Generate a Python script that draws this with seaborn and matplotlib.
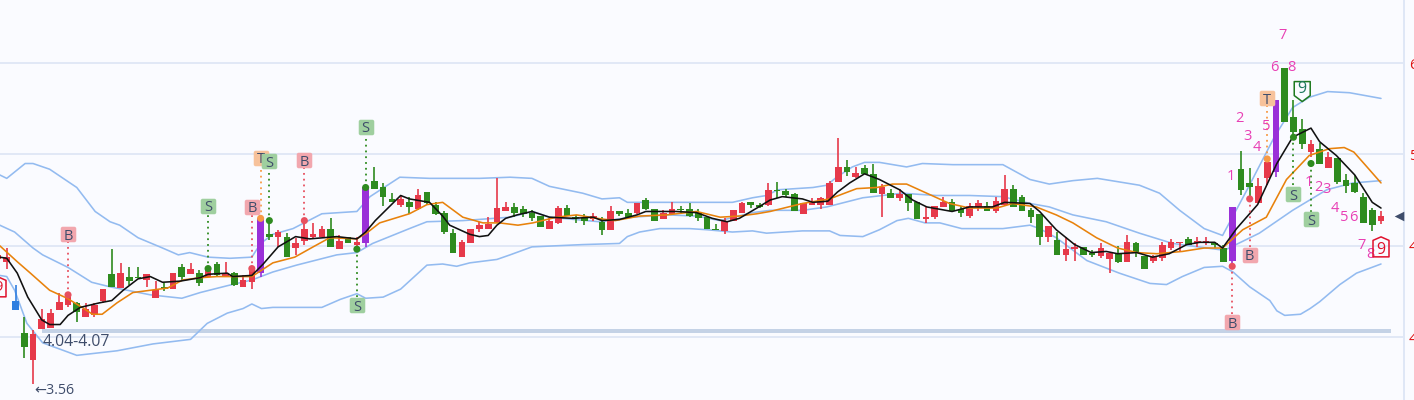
import numpy as np
import seaborn as sns
from matplotlib import pyplot as plt
from matplotlib.path import Path

# --- Candles ---
opens = [
    4.68, 4.66, 4.32, 4.04, 3.80, 4.07, 4.08, 4.24, 4.28, 4.30,
    4.18, 4.19, 4.32, 4.55, 4.43, 4.53, 4.53, 4.50, 4.34, 4.44,
    4.42, 4.61, 4.55, 4.56, 4.53, 4.64, 4.53, 4.56, 4.44, 4.48,
    4.56, 4.90, 4.88, 4.88, 4.78, 4.84, 4.88, 4.88, 4.95, 4.77,
    4.88, 4.81, 4.82, 5.37, 5.31, 5.21, 5.16, 5.18, 5.12, 5.27,
    5.16, 5.09, 4.91, 4.70, 4.82, 4.95, 4.95, 5.01, 5.10, 5.14,
    5.12, 5.09, 5.06, 4.95, 5.00, 5.13, 5.05, 5.04, 5.03, 5.01,
    4.94, 5.10, 5.09, 5.09, 5.20, 5.12, 5.03, 5.08, 5.12, 5.12,
    5.09, 5.05, 4.95, 4.93, 5.02, 5.09, 5.18, 5.16, 5.16, 5.29,
    5.28, 5.25, 5.08, 5.16, 5.16, 5.16, 5.36, 5.49, 5.40, 5.48,
    5.43, 5.25, 5.26, 5.22, 5.25, 5.18, 5.03, 5.05, 5.14, 5.18,
    5.12, 5.06, 5.14, 5.15, 5.10, 5.16, 5.30, 5.23, 5.11, 5.08,
    4.88, 4.85, 4.72, 4.77, 4.79, 4.74, 4.71, 4.68, 4.73, 4.66,
    4.82, 4.71, 4.67, 4.69, 4.78, 4.82, 4.86, 4.82, 4.82, 4.82,
    4.78, 4.67, 5.47, 5.35, 5.17, 5.39, 5.45, 6.36, 5.93, 5.82,
    5.62, 5.65, 5.48, 5.57, 5.38, 5.35, 5.23, 5.11, 5.02,
]
closes = [
    4.72, 4.70, 4.24, 3.91, 4.03, 4.16, 4.21, 4.31, 4.35, 4.22,
    4.25, 4.28, 4.42, 4.44, 4.56, 4.49, 4.52, 4.55, 4.41, 4.42,
    4.56, 4.53, 4.60, 4.47, 4.59, 4.54, 4.56, 4.46, 4.50, 4.59,
    5.04, 4.88, 4.92, 4.70, 4.82, 4.95, 4.90, 4.95, 4.79, 4.84,
    4.82, 4.83, 5.31, 5.30, 5.23, 5.18, 5.21, 5.14, 5.24, 5.17,
    5.08, 4.92, 4.74, 4.83, 4.95, 4.98, 4.99, 5.13, 5.14, 5.09,
    5.08, 5.04, 4.96, 5.02, 5.13, 5.06, 5.04, 5.02, 5.06, 4.94,
    5.10, 5.08, 5.05, 5.17, 5.12, 5.02, 5.09, 5.12, 5.11, 5.06,
    5.04, 4.95, 4.94, 5.02, 5.11, 5.17, 5.16, 5.14, 5.29, 5.28,
    5.24, 5.10, 5.17, 5.18, 5.22, 5.35, 5.49, 5.45, 5.44, 5.43,
    5.26, 5.31, 5.22, 5.25, 5.17, 5.03, 5.05, 5.15, 5.18, 5.10,
    5.09, 5.15, 5.17, 5.10, 5.19, 5.30, 5.14, 5.10, 5.05, 4.88,
    4.97, 4.72, 4.77, 4.79, 4.72, 4.72, 4.78, 4.74, 4.66, 4.83,
    4.74, 4.60, 4.70, 4.81, 4.83, 4.83, 4.81, 4.84, 4.84, 4.81,
    4.66, 5.14, 5.29, 5.31, 5.32, 5.53, 6.08, 5.88, 5.80, 5.69,
    5.69, 5.52, 5.58, 5.36, 5.32, 5.27, 5.00, 4.98, 5.06,
]
highs = [
    4.78, 4.78, 4.46, 4.18, 4.06, 4.25, 4.25, 4.39, 4.37, 4.31,
    4.30, 4.30, 4.42, 4.77, 4.65, 4.61, 4.61, 4.55, 4.49, 4.47,
    4.56, 4.64, 4.65, 4.59, 4.61, 4.66, 4.66, 4.57, 4.54, 4.61,
    5.04, 5.02, 4.94, 4.91, 4.87, 5.02, 5.00, 4.97, 5.04, 4.89,
    4.88, 4.88, 5.31, 5.49, 5.35, 5.26, 5.24, 5.23, 5.30, 5.27,
    5.18, 5.10, 4.95, 4.85, 4.95, 5.01, 5.05, 5.39, 5.18, 5.17,
    5.15, 5.11, 5.06, 5.04, 5.15, 5.16, 5.07, 5.08, 5.09, 5.05,
    5.15, 5.10, 5.12, 5.17, 5.22, 5.12, 5.11, 5.18, 5.15, 5.17,
    5.12, 5.05, 4.99, 5.04, 5.11, 5.18, 5.18, 5.17, 5.35, 5.36,
    5.30, 5.26, 5.17, 5.22, 5.23, 5.37, 5.74, 5.55, 5.49, 5.51,
    5.52, 5.34, 5.30, 5.30, 5.25, 5.18, 5.14, 5.15, 5.23, 5.21,
    5.15, 5.17, 5.20, 5.18, 5.23, 5.42, 5.33, 5.24, 5.13, 5.08,
    4.97, 4.92, 4.88, 4.82, 4.79, 4.76, 4.82, 4.74, 4.80, 4.89,
    4.83, 4.71, 4.72, 4.83, 4.86, 4.83, 4.88, 4.88, 4.88, 4.82,
    4.81, 5.14, 5.63, 5.48, 5.39, 5.55, 6.08, 6.36, 6.08, 5.91,
    5.73, 5.70, 5.62, 5.57, 5.43, 5.42, 5.26, 5.13, 5.10,
]
lows = [
    4.66, 4.60, 4.24, 3.82, 3.59, 4.07, 4.08, 4.24, 4.26, 4.13,
    4.18, 4.18, 4.30, 4.44, 4.43, 4.46, 4.52, 4.44, 4.34, 4.40,
    4.42, 4.50, 4.55, 4.45, 4.53, 4.53, 4.53, 4.45, 4.44, 4.42,
    4.53, 4.85, 4.79, 4.70, 4.72, 4.81, 4.87, 4.88, 4.79, 4.77,
    4.82, 4.77, 4.79, 5.30, 5.15, 5.18, 5.14, 5.08, 5.11, 5.16,
    5.07, 4.90, 4.74, 4.70, 4.82, 4.92, 4.95, 5.00, 5.10, 5.05,
    5.05, 5.02, 4.96, 4.95, 4.99, 5.06, 5.00, 4.98, 5.02, 4.89,
    4.94, 5.06, 5.05, 5.08, 5.11, 5.02, 5.03, 5.07, 5.08, 5.05,
    5.02, 4.95, 4.94, 4.90, 5.02, 5.09, 5.13, 5.13, 5.15, 5.22,
    5.23, 5.10, 5.08, 5.16, 5.12, 5.16, 5.36, 5.41, 5.39, 5.43,
    5.26, 5.05, 5.22, 5.19, 5.10, 5.03, 5.00, 5.03, 5.14, 5.10,
    5.05, 5.04, 5.10, 5.10, 5.09, 5.15, 5.14, 5.10, 5.00, 4.81,
    4.83, 4.72, 4.67, 4.67, 4.72, 4.70, 4.69, 4.56, 4.65, 4.66,
    4.70, 4.60, 4.65, 4.67, 4.76, 4.75, 4.81, 4.79, 4.81, 4.78,
    4.66, 4.65, 5.24, 5.23, 5.17, 5.33, 5.40, 5.88, 5.77, 5.65,
    5.58, 5.52, 5.48, 5.34, 5.26, 5.26, 5.00, 4.93, 4.99,
]
purple_bars = [30, 42, 141, 146]
blue_bars = [2]

# --- Moving averages, read as (bar position, price) ---
fast_x = [0.2, 1.0, 2.2, 3.4, 5.0, 5.9, 7.1, 8.0, 9.4, 11.6, 13.0, 14.3, 16.0, 17.4, 18.8, 20.8, 23.1, 24.0, 26.2, 26.8,
          29.0, 30.3, 32.0, 34.0, 35.6, 38.7, 41.0, 42.0, 43.1, 46.0, 47.0, 49.3, 50.8, 51.6, 53.9, 55.0, 56.0, 57.0,
          58.0, 59.3, 61.0, 63.0, 65.7, 68.0, 69.0, 71.0, 73.0, 74.0, 75.3, 77.5, 79.8, 81.6, 83.3, 84.7, 86.7, 88.2,
          89.6, 91.9, 93.1, 94.8, 95.9, 97.3, 99.0, 100.7, 103.0, 104.5, 106.1, 109.0, 111.0, 113.6, 115.0, 117.9,
          119.0, 120.9, 123.0, 124.9, 126.6, 127.9, 130.1, 131.9, 133.8, 135.8, 137.3, 139.0, 139.9, 141.5, 143.9,
          146.1, 147.9, 150.0, 151.0, 152.9, 155.0, 157.0, 158.0]
fast_y = [4.70, 4.69, 4.56, 4.35, 4.15, 4.11, 4.11, 4.19, 4.26, 4.30, 4.32, 4.41, 4.51, 4.53, 4.48, 4.49, 4.52, 4.55, 4.56, 4.53,
          4.54, 4.64, 4.79, 4.88, 4.86, 4.88, 4.86, 4.92, 5.02, 5.24, 5.21, 5.18, 5.06, 4.98, 4.90, 4.88, 4.89, 4.98,
          5.04, 5.07, 5.10, 5.05, 5.04, 5.05, 5.02, 5.03, 5.07, 5.10, 5.10, 5.10, 5.09, 5.04, 5.01, 5.04, 5.13, 5.20,
          5.23, 5.21, 5.18, 5.19, 5.27, 5.35, 5.43, 5.38, 5.29, 5.20, 5.14, 5.10, 5.14, 5.14, 5.18, 5.17,
          5.10, 4.94, 4.81, 4.74, 4.75, 4.73, 4.74, 4.70, 4.73, 4.81, 4.83, 4.83, 4.78, 4.95, 5.16,
          5.52, 5.75, 5.83, 5.71, 5.59, 5.42, 5.18, 5.13]

slow_x = [0.2, 2.2, 3.7, 5.9, 7.9, 9.6, 10.8, 11.9, 13.6, 15.4, 17.4, 19.4, 21.1, 23.1, 25.0, 26.8, 29.0, 31.4, 33.9, 36.0,
          37.9, 41.0, 42.1, 43.6, 47.0, 49.0, 50.8, 53.1, 55.4, 57.3, 59.4, 61.1, 63.8, 66.1, 68.4, 70.5, 73.3, 76.4,
          79.8, 82.5, 84.7, 86.7, 88.2, 91.9, 95.0, 98.1, 100.4, 102.2, 103.8, 106.1, 108.7, 111.0, 114.1, 115.9,
          118.6, 120.9, 122.8, 125.5, 127.9, 130.1, 132.4, 135.3, 137.8, 139.9, 142.2, 144.9, 147.2, 149.8, 152.1,
          153.8, 154.9, 156.4, 158.0]
slow_y = [4.80, 4.66, 4.56, 4.41, 4.34, 4.26, 4.20, 4.20, 4.30, 4.39, 4.41, 4.43, 4.50, 4.52, 4.53, 4.53, 4.53, 4.65, 4.70, 4.79,
          4.87, 4.86, 4.91, 5.00, 5.08, 5.16, 5.18, 5.05, 5.00, 5.00, 4.98, 5.00, 5.05, 5.07, 5.04, 5.02, 5.06, 5.07,
          5.10, 5.05, 5.06, 5.08, 5.10, 5.17, 5.21, 5.30, 5.31, 5.34, 5.34, 5.26, 5.17, 5.13, 5.13, 5.17,
          5.14, 5.07, 5.00, 4.87, 4.78, 4.74, 4.73, 4.75, 4.78, 4.78, 4.94, 5.05, 5.38, 5.59, 5.65,
          5.66, 5.62, 5.49, 5.35]

# --- Bollinger bands ---
upper_x = [0.2, 1.0, 3.1, 4.0, 5.9, 9.0, 11.1, 12.8, 13.9, 16.0, 18.8, 20.6, 21.9, 24.0, 26.5, 29.0, 30.0, 31.4, 33.7, 37.0,
           41.0, 42.5, 45.9, 49.3, 55.0, 58.5, 61.0, 63.0, 66.8, 69.0, 71.0, 71.9, 76.4, 80.2, 83.9, 86.2, 87.8, 89.1,
           93.1, 94.7, 95.8, 97.6, 99.0, 100.7, 103.8, 105.6, 109.1, 114.8, 117.9, 120.1, 122.8, 125.6, 130.4, 132.7,
           135.0, 137.8, 139.9, 142.7, 145.8, 147.9, 149.8, 151.9, 154.4, 158.0]
upper_y = [5.42, 5.39, 5.52, 5.52, 5.47, 5.31, 5.10, 5.01, 4.98, 4.87, 4.78, 4.72, 4.74, 4.70, 4.69, 4.70, 4.82, 4.90, 4.95, 5.08,
           5.10, 5.23, 5.40, 5.39, 5.39, 5.40, 5.39, 5.32, 5.26, 5.21, 5.22, 5.18, 5.18, 5.18, 5.18, 5.22, 5.24, 5.29,
           5.31, 5.33, 5.40, 5.49, 5.53, 5.53, 5.49, 5.52, 5.51, 5.51, 5.38, 5.34, 5.37, 5.39, 5.33, 5.26,
           5.11, 4.95, 4.89, 5.29, 5.75, 6.01, 6.10, 6.15, 6.14, 6.09]

mid_x = [0.2, 1.9, 4.0, 5.1, 8.0, 10.7, 12.8, 17.4, 21.0, 23.1, 26.2, 29.0, 31.4, 34.1, 38.7, 41.0, 42.8, 47.0, 49.0, 53.1,
         58.5, 61.1, 63.0, 68.7, 72.5, 76.4, 79.8, 82.5, 86.2, 88.2, 91.9, 94.7, 98.8, 103.3, 107.2, 111.0, 114.8,
         117.9, 120.1, 122.8, 126.6, 130.4, 134.2, 138.1, 140.1, 144.1, 147.9, 151.8, 154.8, 158.0]
mid_y = [4.98, 4.92, 4.78, 4.72, 4.61, 4.48, 4.44, 4.37, 4.34, 4.39, 4.45, 4.50, 4.57, 4.63, 4.72, 4.74, 4.82, 4.95, 5.01, 5.02,
         5.05, 5.10, 5.05, 5.01, 5.05, 5.07, 5.06, 5.02, 5.09, 5.11, 5.11, 5.14, 5.22, 5.26, 5.24, 5.24, 5.23,
         5.17, 5.14, 5.07, 5.01, 4.91, 4.82, 4.78, 4.76, 4.91, 5.11, 5.29, 5.35, 5.37]

lower_x = [0.2, 1.0, 1.9, 3.3, 5.1, 9.0, 13.6, 17.7, 22.0, 23.9, 26.2, 28.0, 29.0, 30.1, 31.4, 37.0, 39.1, 41.0, 42.0, 44.0,
           46.0, 49.0, 50.8, 52.4, 53.9, 57.0, 58.5, 61.0, 66.8, 71.0, 71.9, 73.3, 75.6, 79.0, 81.0, 83.9, 86.2, 87.8,
           91.9, 95.0, 96.2, 98.8, 100.7, 102.7, 104.0, 105.9, 107.6, 110.1, 114.8, 117.9, 119.0, 120.9, 124.4, 128.1,
           131.6, 133.5, 135.3, 137.8, 139.9, 141.1, 143.0, 145.3, 146.1, 147.0, 148.8, 149.9, 151.0, 153.3, 155.2, 158.0]
lower_y = [4.54, 4.53, 4.41, 4.12, 3.95, 3.84, 3.88, 3.94, 3.98, 4.12, 4.21, 4.25, 4.29, 4.25, 4.26, 4.26, 4.33, 4.38, 4.34, 4.35,
           4.42, 4.63, 4.64, 4.62, 4.65, 4.68, 4.72, 4.79, 4.81, 4.82, 4.88, 4.92, 4.95, 4.95, 4.94, 4.92, 4.93, 4.91,
           4.93, 4.93, 4.89, 4.88, 4.94, 5.02, 5.04, 5.00, 5.00, 4.95, 4.95, 4.98, 4.95, 4.87, 4.67, 4.56,
           4.47, 4.46, 4.53, 4.61, 4.62, 4.57, 4.44, 4.32, 4.23, 4.19, 4.20, 4.25, 4.31, 4.46, 4.56, 4.64]

# --- Signals: bar, letter, price of the dot, price of the tag ---
signal_bars = [8, 24, 29, 30, 31, 35, 42, 41, 141, 143, 145, 148, 150]
signal_tags = ['B', 'S', 'B', 'T', 'S', 'B', 'S', 'S', 'B', 'B', 'T', 'S', 'S']
signal_dots = [4.37, 4.60, 4.60, 5.04, 5.02, 5.02, 5.31, 4.77, 4.62, 5.21, 5.56, 5.75, 5.52]
signal_tops = [4.90, 5.15, 5.14, 5.57, 5.54, 5.55, 5.84, 4.28, 4.13, 4.72, 6.09, 5.25, 5.03]

# --- Sequence counts ---
count_x = [146.8, 145.8, 147.8, 141.8, 144.9, 142.8, 143.8, 140.9,
           149.8, 150.8, 151.8, 152.7, 153.8, 154.8, 155.8, 156.8]
count_y = [6.64, 6.36, 6.36, 5.91, 5.84, 5.76, 5.66, 5.41,
           5.35, 5.31, 5.29, 5.13, 5.05, 5.05, 4.80, 4.72]
count_text = ['7', '6', '8', '2', '5', '3', '4', '1',
              '1', '2', '3', '4', '5', '6', '7', '8']

# --- Axis and zone ---
price_ticks = [4.00, 4.80, 5.60, 6.40]
zone_low, zone_high = 4.04, 4.07
zone_label = '4.04-4.07'
low_label = '←3.56'

RED = '#e6394a'
GREEN = '#2e8b1f'
PURPLE = '#9a30d8'
BLUE = '#2f7ee0'
BAND = '#93bbf0'
GRID = '#dfe7f6'
SLATE = '#3f4d6b'
MAGENTA = '#e83fb4'
TAG_COLORS = {'B': '#f2a7ae', 'S': '#9fcf9f', 'T': '#f7c29b'}
LINE_COLORS = {'B': '#e8505f', 'S': '#2e8b1f', 'T': '#f79a45'}


def bar_colors():
    colors = [RED if c >= o else GREEN for o, c in zip(opens, closes)]
    for i in purple_bars:
        colors[i] = PURPLE
    for i in blue_bars:
        colors[i] = BLUE
    return colors


def draw_line(ax, x, y, color, width=1.15, zorder=3):
    sns.lineplot(x=x, y=y, color=color, linewidth=width, estimator=None, sort=False, ax=ax, zorder=zorder)


def house_marker(flipped=False):
    verts = [(0, 1), (0.8, 0.65), (0.8, -1), (-0.8, -1), (-0.8, 0.65), (0, 1)]
    if flipped:
        verts = [(-0.8, 1), (0.8, 1), (0.8, -0.4), (0, -1), (-0.8, -0.4), (-0.8, 1)]
    return Path(verts, closed=True)


def rounded_square():
    r = 0.25
    verts = [(-1 + r, -1), (1 - r, -1), (1, -1), (1, -1 + r), (1, 1 - r), (1, 1), (1 - r, 1),
             (-1 + r, 1), (-1, 1), (-1, 1 - r), (-1, -1 + r), (-1, -1), (-1 + r, -1), (-1 + r, -1)]
    codes = [Path.MOVETO, Path.LINETO, Path.CURVE3, Path.CURVE3, Path.LINETO, Path.CURVE3, Path.CURVE3,
             Path.LINETO, Path.CURVE3, Path.CURVE3, Path.LINETO, Path.CURVE3, Path.CURVE3, Path.CLOSEPOLY]
    return Path(verts, codes)


sns.set_theme(style="white")
plt.rcParams['font.family'] = ['Open Sans', 'DejaVu Sans']

fig = plt.figure(figsize=(14.14, 4.0), dpi=100, facecolor='#fafbff')
ax = fig.add_axes([0, 0, 1403.5 / 1414, 1], facecolor='#fafbff')

bars = np.arange(len(opens))
colors = bar_colors()

# zone strip and the band lines go under the candles
ax.fill_between([5.03, 159.1], zone_low, zone_high, color='#c4d2e6', linewidth=0, zorder=2)
draw_line(ax, upper_x, upper_y, BAND, zorder=2.2)
draw_line(ax, mid_x, mid_y, BAND, zorder=2.2)
draw_line(ax, lower_x, lower_y, BAND, zorder=2.2)

ax.vlines(bars, lows, highs, colors=colors, linewidth=1.2, zorder=3)
ax.bar(bars, np.array(closes) - np.array(opens), bottom=opens, width=0.76, color=colors, linewidth=0, zorder=3)

draw_line(ax, slow_x, slow_y, '#e8820c', zorder=4)
draw_line(ax, fast_x, fast_y, '#111111', zorder=4.2)

# signal tags with their dotted stems
for bar, tag, dot, top in zip(signal_bars, signal_tags, signal_dots, signal_tops):
    ax.vlines(bar, dot, top, colors=LINE_COLORS[tag], linestyles=(0, (1, 2.2)), linewidth=1.3, zorder=4.5)
sns.scatterplot(x=signal_bars, y=signal_dots, hue=signal_tags, palette=LINE_COLORS, s=26,
                linewidth=0, legend=False, ax=ax, zorder=5)
for i, (bar, tag, top) in enumerate(zip(signal_bars, signal_tags, signal_tops)):
    ax.scatter([bar], [top], marker=rounded_square(), s=125, color=TAG_COLORS[tag], linewidths=0, zorder=6 + i * 0.01)
    ax.text(bar, top, tag, ha='center', va='center_baseline', fontsize=10.5, color=SLATE, zorder=6 + i * 0.01)

for x, y, label in zip(count_x, count_y, count_text):
    ax.text(x, y, label, ha='center', va='center', fontsize=10.5, color=MAGENTA, zorder=6)

# hollow nine markers
ax.scatter([0], [4.44], marker=house_marker(), s=207, facecolors='none', edgecolors='#e0102c', linewidths=1.1, zorder=6)
ax.scatter([158], [4.79], marker=house_marker(), s=207, facecolors='none', edgecolors='#e0102c', linewidths=1.1, zorder=6)
ax.scatter([149], [6.15], marker=house_marker(True), s=207, facecolors='none', edgecolors='#1f7a1f', linewidths=1.1, zorder=6)
ax.text(0, 4.43, '9', ha='center', va='center', fontsize=10.5, color='#e0102c', zorder=6)
ax.text(158, 4.76, '9', ha='center', va='center', fontsize=11.5, color='#e0102c', zorder=6)
ax.text(149, 6.17, '9', ha='center', va='center', fontsize=11.5, color='#1f7a5f', zorder=6)

ax.text(5.05, 3.96, zone_label, ha='left', va='center', fontsize=11.3, color=SLATE, zorder=6)
ax.text(4.1, 3.53, low_label, ha='left', va='center', fontsize=10.3, color=SLATE, zorder=6)

# last price arrow
ax.scatter([160.0], [closes[-1]], marker='<', s=48, color=SLATE, linewidths=0, zorder=6)

ax.set_xlim(0.2285, 160.57)
ax.set_ylim(3.449, 6.952)
ax.set_xticks([])
ax.yaxis.tick_right()
ax.set_yticks(price_ticks)
ax.set_yticklabels([f'{p:.2f}' for p in price_ticks], color='#e01010', fontsize=11)
ax.tick_params(axis='y', length=0, pad=4)
ax.grid(axis='y', color=GRID, linewidth=1.3, zorder=1)
ax.set_axisbelow(True)
ax.set_xlabel('')
ax.set_ylabel('')
for side in ['top', 'left', 'bottom']:
    ax.spines[side].set_visible(False)
ax.spines['right'].set_color(GRID)
ax.spines['right'].set_linewidth(1.4)

fig.savefig('out.png', dpi=100, facecolor=fig.get_facecolor())
